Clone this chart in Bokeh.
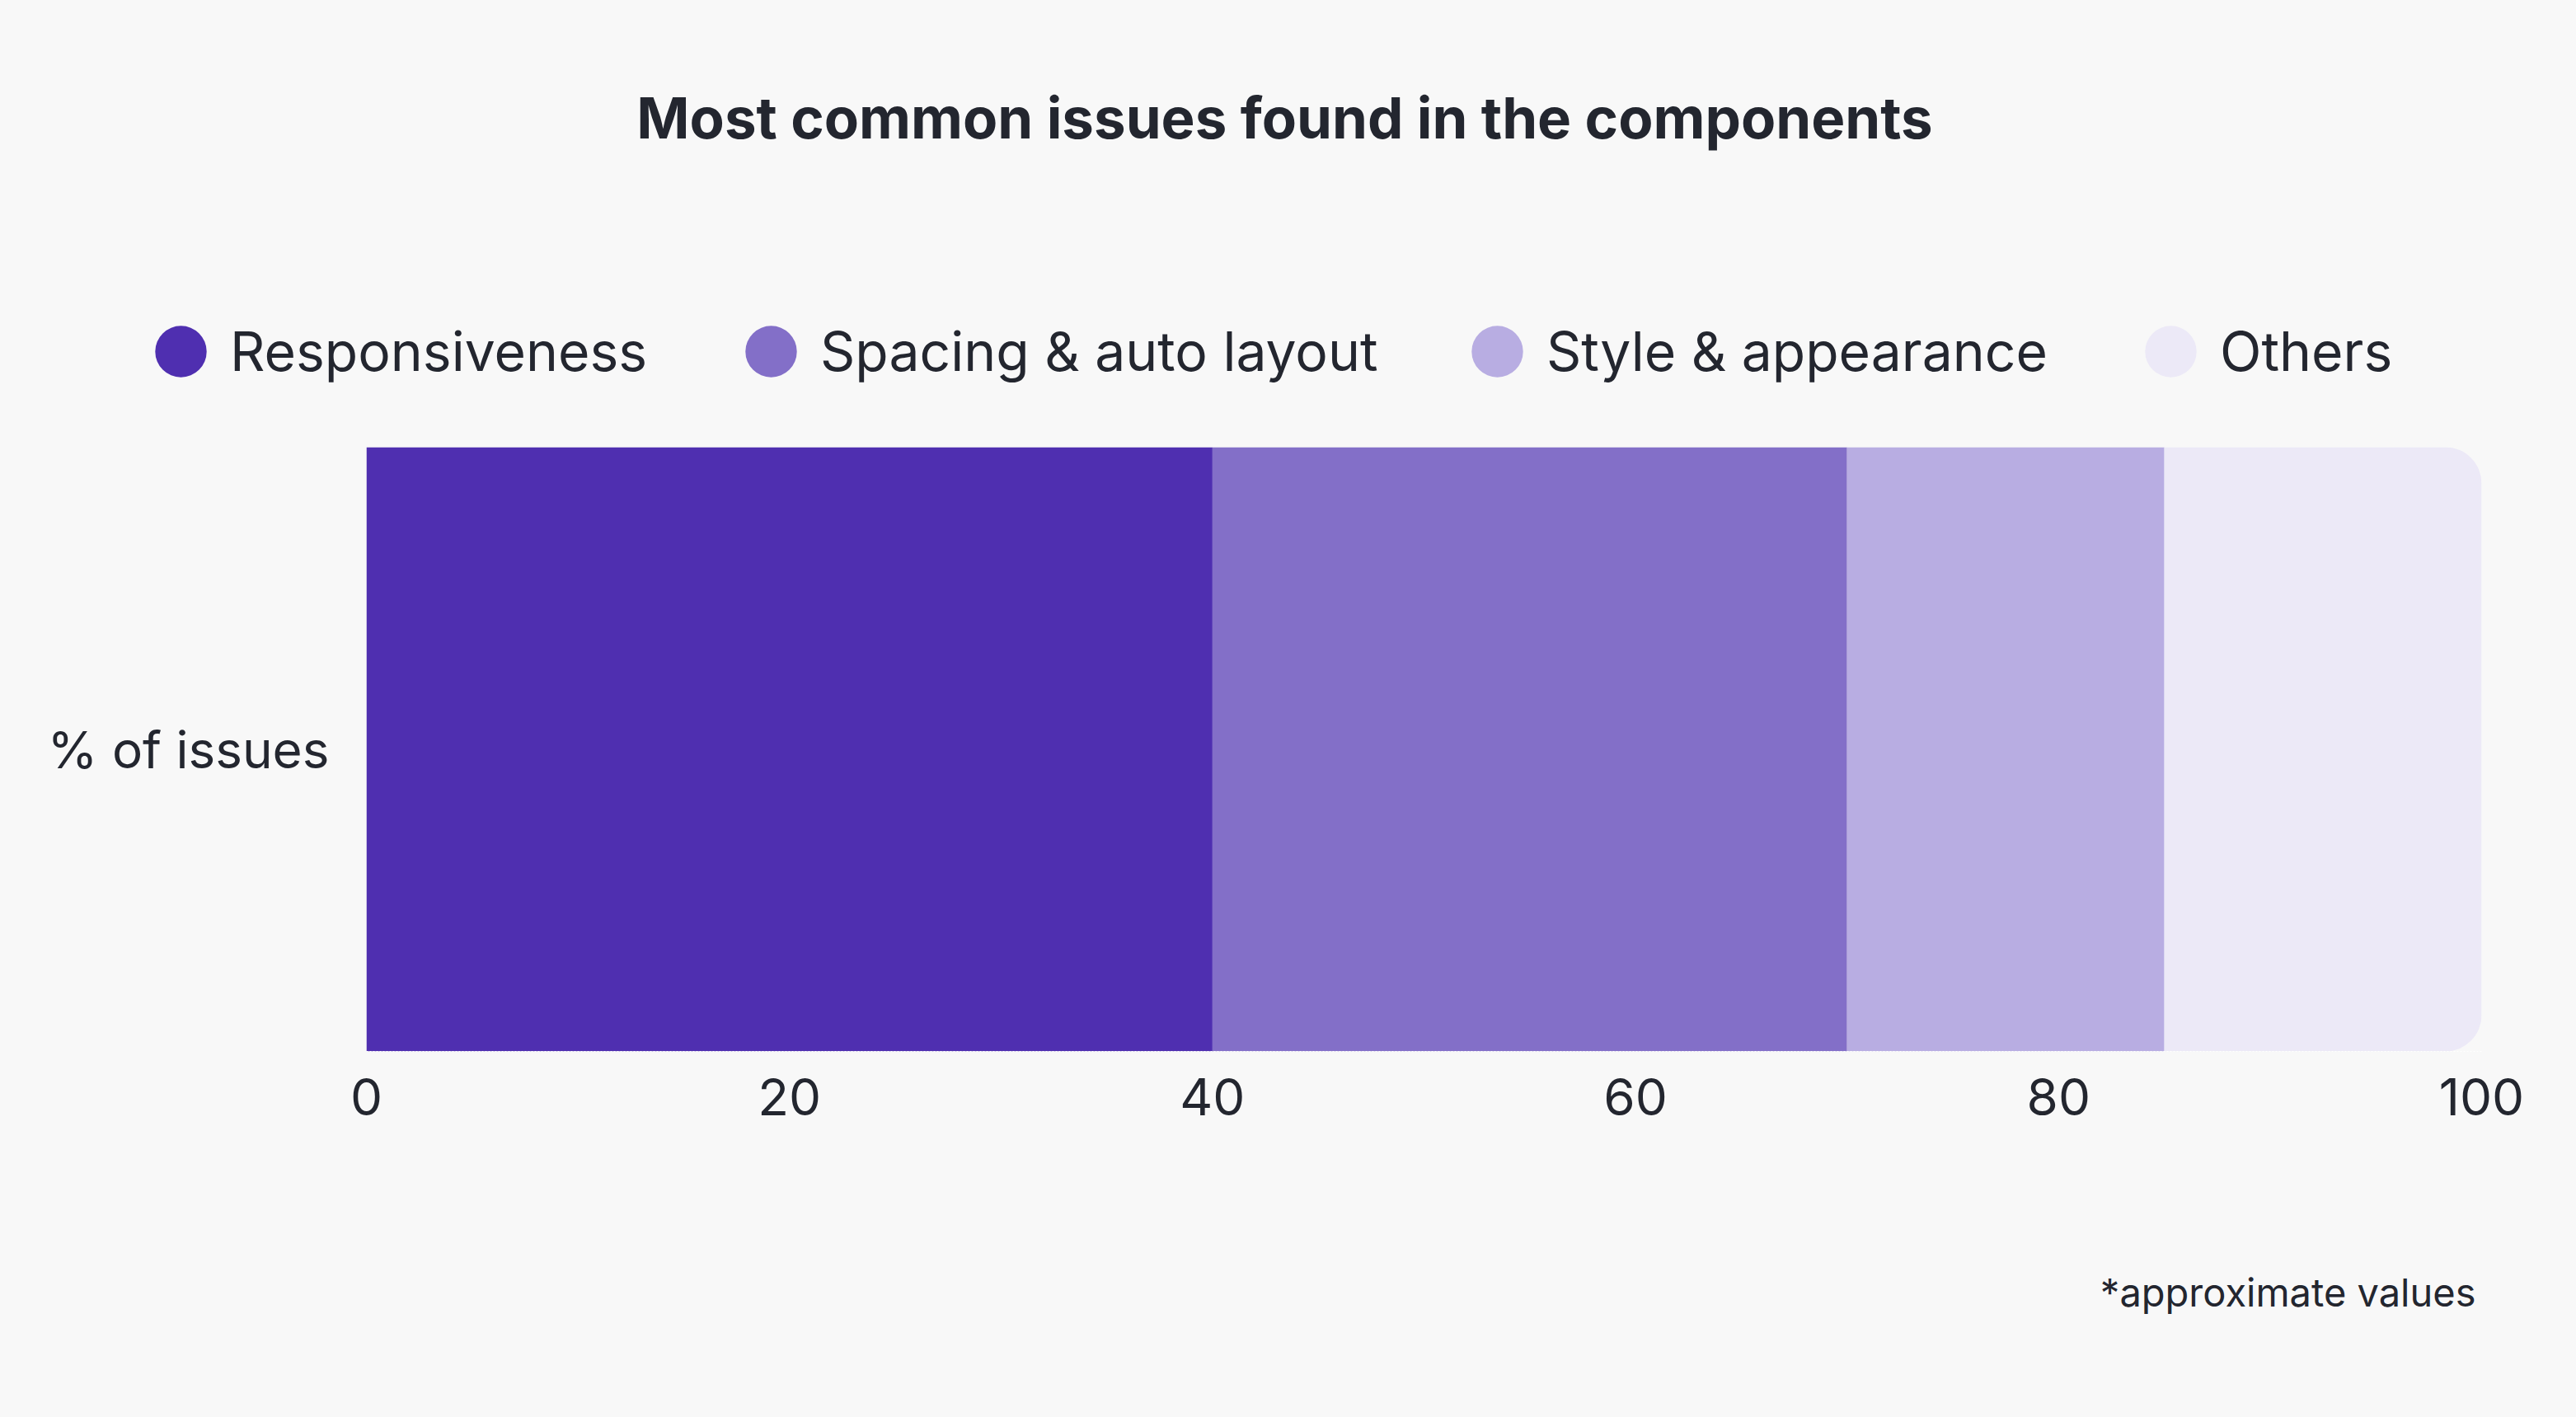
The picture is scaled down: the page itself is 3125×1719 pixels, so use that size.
from bokeh.plotting import figure
from bokeh.models import (Legend, LegendItem, FixedTicker, ColumnDataSource, Range1d,
                          GlobalInlineStyleSheet)
from bokeh.core.properties import value
from bokeh.embed import file_html
from bokeh.resources import INLINE

# ---- data ----
category = ["% of issues"]
series = ["Responsiveness", "Spacing & auto layout", "Style & appearance", "Others"]
values = {
    "Responsiveness": [40],
    "Spacing & auto layout": [30],
    "Style & appearance": [15],
    "Others": [15],
}
colors = ["#4F2FB0", "#836FC8", "#B8ADE2", "#ECE9F7"]
x_ticks = [0, 20, 40, 60, 80, 100]
title_text = "Most common issues found in the components"
note_text = "*approximate values"

BG = "#F8F8F8"
TXT = "#23262F"
FONT = "Inter"
W = 3109
TOP_H, MAIN_H, BOT_H = 520, 900, 283
NAN = float("nan")


def blank(h):
    f = figure(width=W, height=h, x_range=Range1d(0, W), y_range=Range1d(h, 0),
               output_backend="svg", toolbar_location=None,
               x_axis_type=None, y_axis_type=None,
               min_border=0, min_border_left=0, min_border_right=0,
               min_border_top=0, min_border_bottom=0)
    f.title.visible = False
    f.background_fill_color = BG
    f.border_fill_color = BG
    f.outline_line_color = None
    f.grid.visible = False
    return f


# ---- header: title + legend ----
top = blank(TOP_H)
top.stylesheets = [GlobalInlineStyleSheet(css="html, body { background: #F8F8F8; }")]
top.text(x=[1558], y=[142], text=[title_text], text_align="center",
         text_baseline="alphabetic", text_font=value(FONT), text_font_style="bold",
         text_font_size="69px", text_color=TXT)

legend_x = [180, 896, 1777, 2594]
for name, col, lx in zip(series, colors, legend_x):
    key = top.ellipse(x=[NAN], y=[NAN], width=62, height=62,
                      width_units="screen", height_units="screen",
                      fill_color=col, line_color=None)
    lg = Legend(items=[LegendItem(label=name, renderers=[key])],
                location=(lx, TOP_H - 471), orientation="horizontal",
                glyph_width=78, glyph_height=90, label_standoff=21,
                padding=0, margin=0, border_line_alpha=0, background_fill_alpha=0,
                label_text_font=FONT, label_text_font_size="66px",
                label_text_color=TXT)
    top.add_layout(lg)

# ---- main stacked bar ----
p = figure(width=W, height=MAIN_H, y_range=category, x_range=(0, 100),
           output_backend="svg", toolbar_location=None,
           min_border_left=444, min_border_right=99,
           min_border_top=542 - TOP_H, min_border_bottom=TOP_H + MAIN_H - 1275)
p.title.visible = False
p.background_fill_color = BG
p.border_fill_color = BG
p.outline_line_color = None

src = ColumnDataSource(dict(y=category, **{s: values[s] for s in series}))
rs = p.hbar_stack(series, y="y", height=1.0, color=colors, source=src, line_color=None)
rs[-1].glyph.border_radius = (0, 44, 44, 0)

p.xaxis.ticker = FixedTicker(ticks=x_ticks)
p.xaxis.major_tick_line_color = None
p.xaxis.minor_tick_line_color = None
p.xaxis.axis_line_color = "white"
p.xaxis.axis_line_dash = "2 2"
p.xaxis.major_label_text_font = FONT
p.xaxis.major_label_text_font_size = "62px"
p.xaxis.major_label_text_color = TXT
p.xaxis.major_label_standoff = 26

p.yaxis.major_tick_line_color = None
p.yaxis.axis_line_color = None
p.yaxis.major_label_text_font = FONT
p.yaxis.major_label_text_font_size = "62px"
p.yaxis.major_label_text_color = TXT
p.yaxis.major_label_standoff = 39

p.ygrid.grid_line_color = None
p.xgrid.ticker = FixedTicker(ticks=[100])
p.xgrid.grid_line_color = "#B8ADE2"
p.xgrid.grid_line_dash = "1 1"

# ---- footer: note ----
bot = blank(BOT_H)
bot.text(x=[3003], y=[1567 - TOP_H - MAIN_H], text=[note_text], text_align="right",
         text_baseline="alphabetic", text_font=value(FONT),
         text_font_size="47px", text_color=TXT)

open("out.html", "w").write(file_html([top, p, bot], INLINE))
